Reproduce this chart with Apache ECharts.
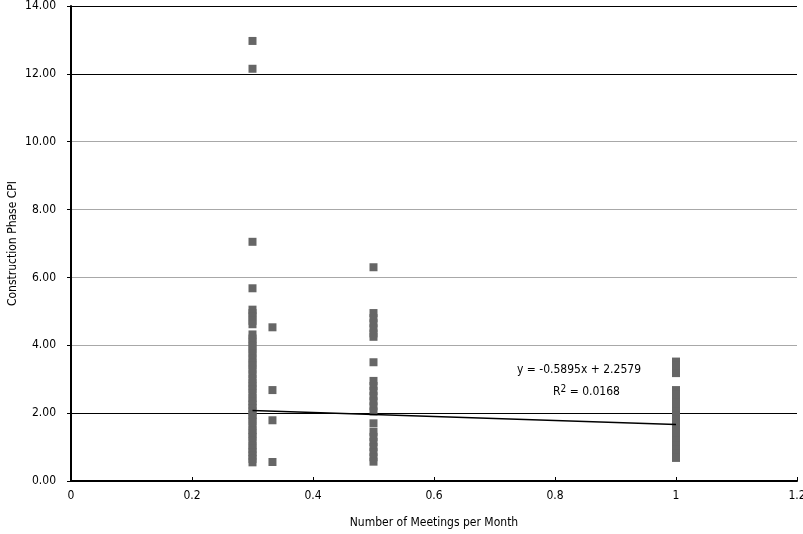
<!DOCTYPE html>
<html>
<head>
<meta charset="utf-8">
<script src="https://cdn.jsdelivr.net/npm/echarts@6/dist/echarts.min.js"></script>
<style>
  html, body { margin: 0; padding: 0; background: #fff; }
  #main { width: 803px; height: 534px; }
</style>
</head>
<body>
<div id="main"></div>
<script>
// meetings per month (x) for each group of projects
var groupX = [0.3, 0.333, 0.5, 1];
// construction phase CPI values, per group
var cpiAt03 = [12.97, 12.15, 7.05, 5.68, 5.05, 4.95, 4.85, 4.72, 4.62, 4.32, 4.2, 4.1, 3.98, 3.87,
  3.75, 3.62, 3.5, 3.4, 3.28, 3.15, 3.02, 2.9, 2.8, 2.7, 2.58, 2.45, 2.35, 2.25, 2.15, 2.05, 1.95,
  1.85, 1.75, 1.62, 1.5, 1.4, 1.3, 1.18, 1.05, 0.95, 0.85, 0.75, 0.65, 0.55];
var cpiAt0333 = [4.53, 2.68, 1.79, 0.56];
var cpiAt05 = [6.3, 4.95, 4.8, 4.65, 4.5, 4.35, 4.25, 3.5, 2.95, 2.8, 2.65, 2.5, 2.35, 2.2, 2.05,
  1.7, 1.45, 1.3, 1.15, 1.0, 0.85, 0.7, 0.57];
var cpiAt1 = [3.52, 3.4, 3.28, 3.18, 2.68, 2.55, 2.42, 2.3, 2.18, 2.05, 1.92, 1.8, 1.68, 1.55,
  1.42, 1.3, 1.18, 1.05, 0.92, 0.8, 0.68];
// linear trend from the chart label
var slope = -0.5895;
var intercept = 2.2579;
var trendRange = [0.3, 1];

var groups = [cpiAt03, cpiAt0333, cpiAt05, cpiAt1];
var points = [];
groups.forEach(function (vals, i) {
  vals.forEach(function (v) { points.push([groupX[i], v]); });
});
var trend = trendRange.map(function (x) { return [x, slope * x + intercept]; });

var font = '"Liberation Sans Narrow", "DejaVu Sans Condensed", sans-serif';
var myChart = echarts.init(document.getElementById('main'));
myChart.setOption({
  animation: false,
  textStyle: { fontFamily: font },
  grid: { left: 71, right: 6, top: 6, bottom: 53, outerBoundsMode: 'none', containLabel: false },
  xAxis: {
    type: 'value', min: 0, max: 1.2, interval: 0.2,
    name: 'Number of Meetings per Month', nameLocation: 'middle', nameGap: 36,
    nameMoveOverlap: false,
    nameTextStyle: { fontSize: 12, color: '#000', fontFamily: font },
    axisLine: { lineStyle: { color: '#000', width: 2 } },
    axisTick: { inside: true, length: 4, lineStyle: { color: '#000' } },
    axisLabel: { color: '#000', fontSize: 12, margin: 9, fontFamily: font,
      formatter: function (v) { return String(Math.round(v * 10) / 10); } },
    splitLine: { show: false }
  },
  yAxis: {
    type: 'value', min: 0, max: 14, interval: 2,
    name: 'Construction Phase CPI', nameLocation: 'middle', nameGap: 52,
    nameMoveOverlap: false,
    nameTextStyle: { fontSize: 12, color: '#000', fontFamily: font },
    axisLine: { lineStyle: { color: '#000', width: 2 } },
    axisTick: { length: 4, lineStyle: { color: '#000' } },
    axisLabel: { color: '#000', fontSize: 12, margin: 15, fontFamily: font,
      formatter: function (v) { return v.toFixed(2); } },
    splitLine: { show: true, lineStyle: { width: 1,
      color: ['#000', '#000', '#a8a8a8', '#a8a8a8', '#a8a8a8', '#a8a8a8', '#000', '#000'] } }
  },
  series: [{
    name: 'CPI', type: 'scatter', symbol: 'rect', symbolSize: 8,
    itemStyle: { color: '#666', opacity: 1 },
    data: points
  }, {
    name: 'Linear', type: 'line', showSymbol: false, symbol: 'none',
    lineStyle: { color: '#000', width: 1.5 },
    data: trend, z: 3
  }],
  graphic: [{
    type: 'text', left: 517, top: 364,
    style: { text: 'y = -0.5895x + 2.2579', font: '12px ' + font, fill: '#000' }
  }, {
    type: 'text', left: 553, top: 384,
    style: {
      text: 'R{s|2} = 0.0168', font: '12px ' + font, fill: '#000',
      rich: { s: { fontSize: 10, verticalAlign: 'top', padding: [0, 0, 6, 0], fontFamily: font } }
    }
  }]
});
</script>
</body>
</html>
